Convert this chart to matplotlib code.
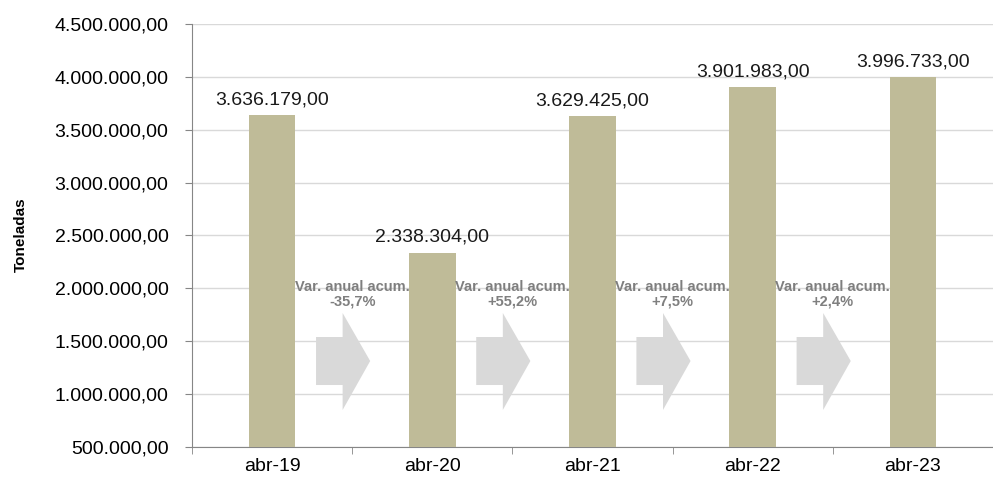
import matplotlib.pyplot as plt
from matplotlib.patches import Polygon
from matplotlib.ticker import FuncFormatter

plt.rcParams['font.family'] = ['Liberation Sans', 'DejaVu Sans']

categories = ['abr-19', 'abr-20', 'abr-21', 'abr-22', 'abr-23']
values = [3636179.00, 2338304.00, 3629425.00, 3901983.00, 3996733.00]
variations = ['-35,7%', '+55,2%', '+7,5%', '+2,4%']


def fmt_es(v, pos=None):
    s = f"{v:,.2f}"
    return s.replace(',', 'X').replace('.', ',').replace('X', '.')


fig = plt.figure(figsize=(9.93, 4.78), dpi=100)
ax = fig.add_axes([0.1934, 0.0649, 0.8066, 0.8849])

x = list(range(len(categories)))
ax.bar(x, values, width=0.29, color='#BFBB98', zorder=3)

for xi, v in zip(x, values):
    ax.annotate(fmt_es(v), (xi, v), xytext=(0, 5), textcoords='offset points',
                ha='center', va='bottom', fontsize=14, color='#1a1a1a', zorder=4)

# arrows with yearly variation between bars
for i, var in enumerate(variations):
    x0 = i + 0.274
    xh = i + 0.44
    xt = i + 0.612
    pts = [(x0, 1086000), (x0, 1540000), (xh, 1540000), (xh, 1767000),
           (xt, 1313000), (xh, 850000), (xh, 1086000)]
    ax.add_patch(Polygon(pts, closed=True, facecolor='#D9D9D9', edgecolor='none', zorder=2))
    ax.text(i + 0.5, 1940000, 'Var. anual acum.\n' + var, ha='center', va='center',
            fontsize=10.5, fontweight='bold', color='#7F7F7F', linespacing=1.05, zorder=4)

ax.set_xlim(-0.5, 4.414)
ax.set_ylim(500000, 4500000)
ax.set_yticks([500000 * k for k in range(1, 10)])
ax.yaxis.set_major_formatter(FuncFormatter(fmt_es))
ax.set_xticks(x)
ax.set_xticklabels(categories)
ax.set_xticks([i - 0.5 for i in range(len(categories) + 1)], minor=True)
ax.tick_params(axis='x', which='major', length=0, labelsize=14, pad=8)
ax.tick_params(axis='x', which='minor', length=5, color='#868686')
ax.tick_params(axis='y', length=5, color='#868686', labelsize=14, pad=12)

ax.grid(axis='y', color='#D9D9D9', linewidth=1, zorder=0)
for side in ['top', 'right']:
    ax.spines[side].set_visible(False)
for side in ['left', 'bottom']:
    ax.spines[side].set_color('#868686')

fig.text(0.021, 0.508, 'Toneladas', rotation=90, ha='center', va='center',
         fontsize=11, fontweight='bold')

fig.savefig('out.png', dpi=100)
